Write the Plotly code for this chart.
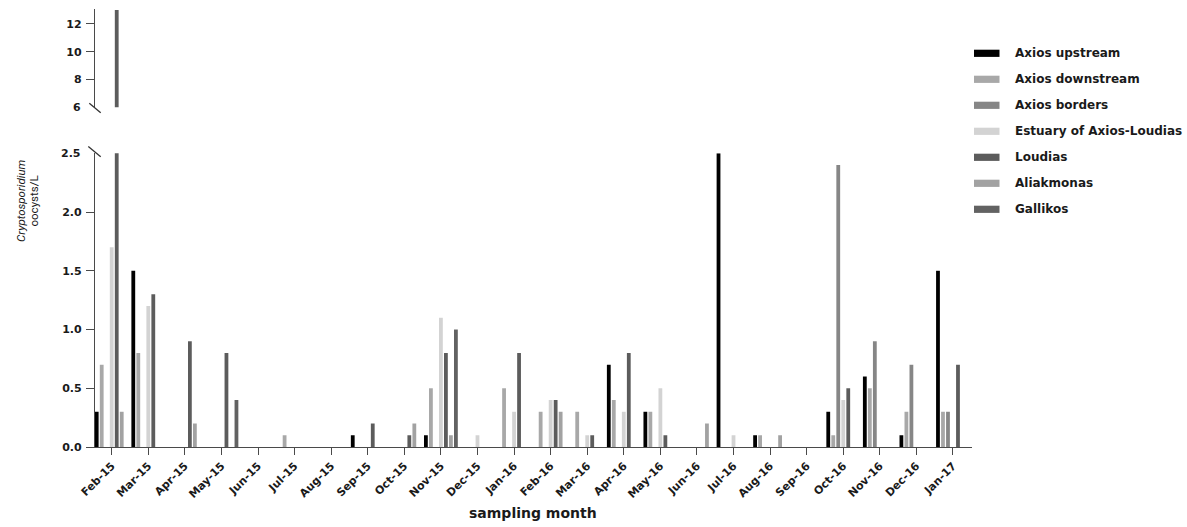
import plotly.graph_objects as go

# Sampling months (Feb 2015 - Jan 2017)
months = ["Feb-15", "Mar-15", "Apr-15", "May-15", "Jun-15", "Jul-15", "Aug-15",
          "Sep-15", "Oct-15", "Nov-15", "Dec-15", "Jan-16", "Feb-16", "Mar-16",
          "Apr-16", "May-16", "Jun-16", "Jul-16", "Aug-16", "Sep-16", "Oct-16",
          "Nov-16", "Dec-16", "Jan-17"]

# Cryptosporidium oocysts/L per sampling site
axios_upstream = [0.3, 1.5, 0, 0, 0, 0, 0, 0.1, 0, 0.1, 0, 0, 0, 0,
                  0.7, 0.3, 0, 2.5, 0.1, 0, 0.3, 0.6, 0.1, 1.5]
axios_downstream = [0.7, 0.8, 0, 0, 0, 0.1, 0, 0, 0, 0.5, 0, 0.5, 0.3, 0.3,
                    0.4, 0.3, 0, 0, 0.1, 0, 0.1, 0.5, 0.3, 0.3]
axios_borders = [0, 0, 0, 0, 0, 0, 0, 0, 0, 0, 0, 0, 0, 0,
                 0, 0, 0, 0, 0, 0, 2.4, 0.9, 0.7, 0.3]
estuary = [1.7, 1.2, 0, 0, 0, 0, 0, 0, 0, 1.1, 0.1, 0.3, 0.4, 0.1,
           0.3, 0.5, 0, 0.1, 0, 0, 0.4, 0, 0, 0]
loudias = [13.0, 1.3, 0.9, 0.8, 0, 0, 0, 0.2, 0.1, 0.8, 0, 0.8, 0.4, 0.1,
           0.8, 0.1, 0, 0, 0, 0, 0.5, 0, 0, 0.7]
aliakmonas = [0.3, 0, 0.2, 0, 0, 0, 0, 0, 0.2, 0.1, 0, 0, 0.3, 0,
              0, 0, 0.2, 0, 0.1, 0, 0, 0, 0, 0]
gallikos = [0, 0, 0, 0.4, 0, 0, 0, 0, 0, 1.0, 0, 0, 0, 0,
            0, 0, 0, 0, 0, 0, 0, 0, 0, 0]

series_names = ["Axios upstream", "Axios downstream", "Axios borders",
                "Estuary of Axios-Loudias", "Loudias", "Aliakmonas", "Gallikos"]
series_values = [axios_upstream, axios_downstream, axios_borders, estuary,
                 loudias, aliakmonas, gallikos]
series_colors = ["#000000", "#a8a8a8", "#868686", "#d3d3d3",
                 "#5c5c5c", "#a2a2a2", "#626262"]

lower_ticks = [0, 0.5, 1.0, 1.5, 2.0]
upper_ticks = [8, 10, 12]

W, H = 1187, 527
ML, MR, MT, MB = 95, 215, 9, 80
PW, PH = W - ML - MR, H - MT - MB


def px_x(px):
    return (px - ML) / PW


def px_y(py):
    return (H - MB - py) / PH


LOWER_DOMAIN = [0, px_y(153.3)]
UPPER_DOMAIN = [px_y(107.3), 1.0]

TICK_FONT = dict(family="DejaVu Sans", size=11, color="#1a1a1a", weight="bold")
AXIS_COLOR = "#4a4a4a"

fig = go.Figure()

# Each site drawn in both panels of the broken axis
for name, vals, col in zip(series_names, series_values, series_colors):
    for yax in ("y", "y2"):
        fig.add_trace(go.Bar(
            x=months, y=vals, name=name, yaxis=yax, xaxis="x",
            marker=dict(color=col, line=dict(width=0)),
            showlegend=False, hoverinfo="x+y+name",
        ))

fig.update_layout(
    width=W, height=H,
    margin=dict(l=ML, r=MR, t=MT, b=MB),
    paper_bgcolor="white", plot_bgcolor="white",
    barmode="group", bargap=0.043, bargroupgap=0.24,
    xaxis=dict(
        type="category", range=[-0.457, 23.52], anchor="y",
        showgrid=False, zeroline=False,
        showline=True, linecolor=AXIS_COLOR, linewidth=1.4,
        ticks="outside", ticklen=7, tickwidth=1.3, tickcolor=AXIS_COLOR,
        tickangle=-45, tickfont=TICK_FONT,
    ),
    yaxis=dict(
        domain=LOWER_DOMAIN, range=[0, 2.5], anchor="x",
        showgrid=False, zeroline=False,
        showline=True, linecolor=AXIS_COLOR, linewidth=1.3,
        ticks="outside", ticklen=8, tickwidth=1.3, tickcolor=AXIS_COLOR,
        tickvals=lower_ticks, ticktext=[f"{v:.1f}" for v in lower_ticks],
        tickfont=TICK_FONT, ticklabelstandoff=2,
    ),
    yaxis2=dict(
        domain=UPPER_DOMAIN, range=[6, 13.07], anchor="x",
        showgrid=False, zeroline=False,
        showline=True, linecolor=AXIS_COLOR, linewidth=1.3,
        ticks="outside", ticklen=8, tickwidth=1.3, tickcolor=AXIS_COLOR,
        tickvals=upper_ticks, ticktext=[str(v) for v in upper_ticks],
        tickfont=TICK_FONT, ticklabelstandoff=2,
    ),
)

shapes = []
annotations = []

# Axis break marks and the labels at the break
for (x0, y0, x1, y1) in [(89.3, 103.3, 100.7, 112.7), (88.3, 146.5, 100.7, 156.7)]:
    shapes.append(dict(type="line", xref="paper", yref="paper",
                       x0=px_x(x0), y0=px_y(y0), x1=px_x(x1), y1=px_y(y1),
                       line=dict(color="#333333", width=1.3)))
for label, py in [("6", 107.3), ("2.5", 153.3)]:
    annotations.append(dict(text=label, xref="paper", yref="paper",
                            x=px_x(83), y=px_y(py), xanchor="right", yanchor="middle",
                            showarrow=False, font=TICK_FONT))

# Y-axis title on two lines
for text, px in [("<i>Cryptosporidium</i>", 21.0), ("oocysts/L", 33.5)]:
    annotations.append(dict(text=text, xref="paper", yref="paper",
                            x=px_x(px), y=px_y(201), xanchor="center", yanchor="middle",
                            textangle=-90, showarrow=False,
                            font=dict(family="Roboto", size=11.5, color="#1a1a1a")))

annotations.append(dict(text="sampling month", xref="paper", yref="paper",
                        x=px_x(533), y=px_y(513), xanchor="center", yanchor="middle",
                        showarrow=False,
                        font=dict(family="DejaVu Sans", size=14, color="#1a1a1a",
                                  weight="bold")))

# Legend with wide swatches
for i, (name, col) in enumerate(zip(series_names, series_colors)):
    cy = 53.3 + 26 * i
    shapes.append(dict(type="rect", xref="paper", yref="paper",
                       x0=px_x(974), x1=px_x(999.5), y0=px_y(cy - 3.6), y1=px_y(cy + 3.6),
                       fillcolor=col, line=dict(width=0)))
    annotations.append(dict(text=name, xref="paper", yref="paper",
                            x=px_x(1013), y=px_y(cy), xanchor="left", yanchor="middle",
                            showarrow=False,
                            font=dict(family="DejaVu Sans", size=12, color="#1a1a1a",
                                      weight="bold")))

fig.update_layout(shapes=shapes, annotations=annotations)

fig.write_html("out.html")
